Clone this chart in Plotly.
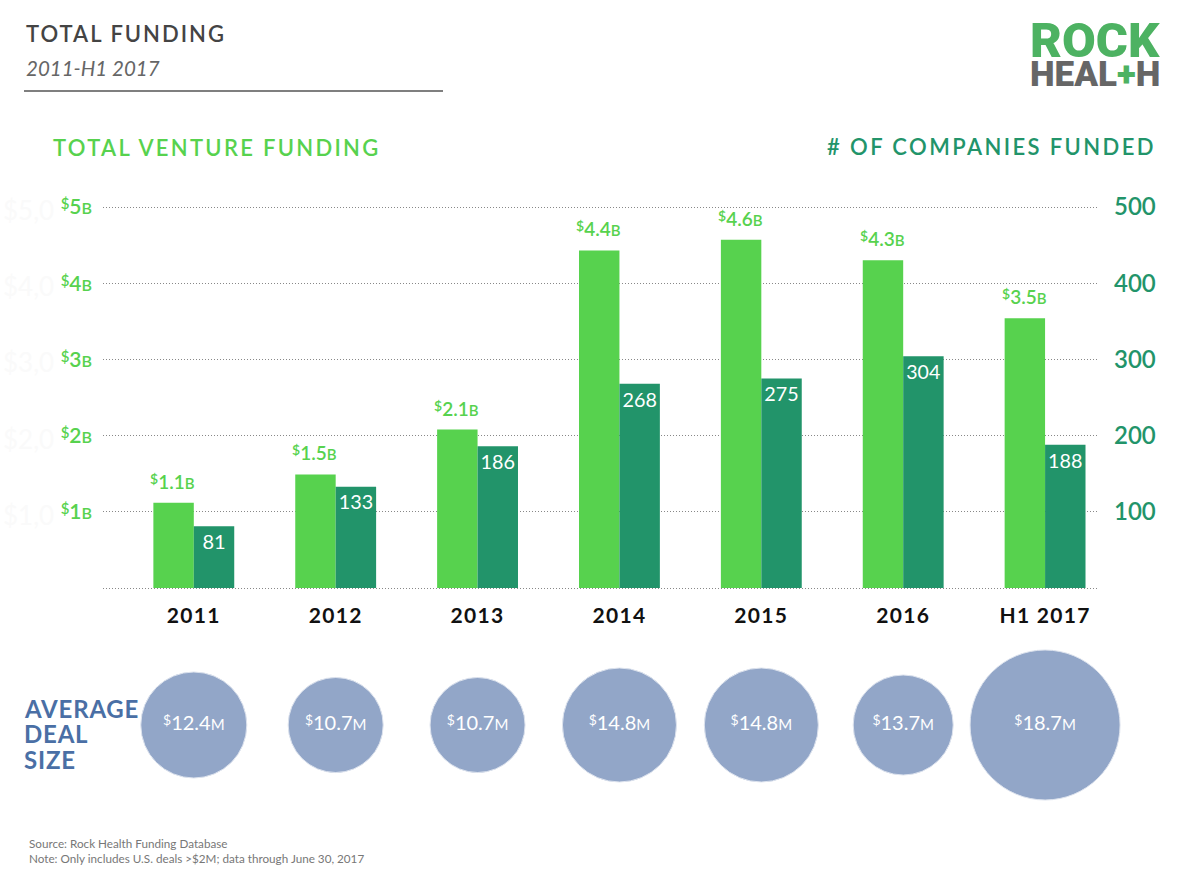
import plotly.graph_objects as go

# Raw data
years = ["2011", "2012", "2013", "2014", "2015", "2016", "H1 2017"]
funding_billions = [1.12, 1.49, 2.08, 4.43, 4.57, 4.30, 3.54]
funding_labels = ["1.1", "1.5", "2.1", "4.4", "4.6", "4.3", "3.5"]
companies = [81, 133, 186, 268, 275, 304, 188]
deal_size = [12.4, 10.7, 10.7, 14.8, 14.8, 13.7, 18.7]
deal_row = [0, 0, 0, 0, 0, 0, 0]
billion_ticks = [0, 1, 2, 3, 4, 5]
company_ticks = [100, 200, 300, 400, 500]

# Circle diameters as measured, they are not strictly proportional
bubble_px = [106, 95, 95, 114, 114, 100, 150]

GREEN = "#57D24E"
TEAL = "#22946A"
BLUE = "#4A6FA5"
BUBBLE = "#92A6C8"
FONT = "Lato"
W, H = 1200, 886


def spaced(text, px=1.5):
    return f'<span style="letter-spacing:{px}px">{text}</span>'


def money(value, unit, small, rise=5):
    dollar = f'<span style="font-size:{small - 1}px;baseline-shift:{rise}px">$</span>'
    return f'{dollar}{value}<span style="font-size:{small}px">{unit}</span>'


fig = go.Figure()

fig.add_trace(go.Bar(x=years, y=funding_billions, marker_color=GREEN, width=0.285, offset=-0.285,
                     xaxis="x", yaxis="y"))
fig.add_trace(go.Bar(x=years, y=companies, marker_color=TEAL, width=0.285, offset=0,
                     text=companies, textposition="inside", insidetextanchor="end",
                     textangle=0, textfont=dict(color="white", size=20, family=FONT),
                     xaxis="x", yaxis="y2"))
fig.add_trace(go.Scatter(x=years, y=deal_row, mode="markers+text",
                         marker=dict(size=bubble_px, color=BUBBLE, opacity=1,
                                     line=dict(color="#DDE3EE", width=1)),
                         text=[money(d, "M", 15) for d in deal_size],
                         textposition="middle center", textfont=dict(color="white", family=FONT, size=20),
                         cliponaxis=False, xaxis="x", yaxis="y3"))

annotations = []
for i, (value, label) in enumerate(zip(funding_billions, funding_labels)):
    annotations.append(dict(x=i, y=value, xref="x", yref="y", xshift=-21, yshift=8,
                            yanchor="bottom", showarrow=False, text=money(label, "B", 15),
                            font=dict(color=GREEN, family=FONT, size=19, weight=600)))


def note(text, x, y, size, color, anchor="left", family=FONT, weight="normal", style="normal"):
    annotations.append(dict(x=x / W, y=1 - y / H, xref="paper", yref="paper", xanchor=anchor,
                            yanchor="middle", showarrow=False, align="left", text=text,
                            borderpad=0, borderwidth=0,
                            font=dict(size=size, color=color, family=family, weight=weight, style=style)))


# Faint leftovers behind the left axis labels
for tick in billion_ticks[1:]:
    note(f"${tick},0", 3, 588 - tick * 76.2 + 3, 26, "#FAFAFA")

note(spaced("TOTAL FUNDING", 2), 26, 34, 22, "#444444", weight=600)
note("2011-H1 2017", 26, 68, 20.5, "#666666", style="italic")
note(spaced("TOTAL VENTURE FUNDING", 2.3), 53, 148, 22, GREEN, weight=600)
note(spaced("# OF COMPANIES FUNDED", 2.4), 1156, 146, 22, TEAL, anchor="right", weight=600)
for line, y in zip(["AVERAGE", "DEAL", "SIZE"], [708, 733, 759]):
    note(spaced(line, 0.8), 24, y, 24, BLUE, weight="bold")
note("Source: Rock Health Funding Database<br>Note: Only includes U.S. deals &gt;$2M; data through June 30, 2017",
     29, 850, 11.7, "#777777")
note("ROCK", 1030, 41, 49, "#4DB262", family="Roboto", weight=900)
note('HEAL<span style="color:#4DB262">+</span>H', 1030, 75, 35, "#666666", family="Roboto", weight=900)

# Pad the y ranges a little so the gridlines at 0 and 5B are not clipped away
pad = 0.05
fig.update_layout(
    template="none",
    width=W, height=H, margin=dict(l=0, r=0, t=0, b=0),
    paper_bgcolor="white", plot_bgcolor="white", showlegend=False,
    font=dict(family=FONT),
    annotations=annotations,
    shapes=[dict(type="line", xref="paper", yref="paper", x0=24 / W, x1=443 / W,
                 y0=1 - 91 / H, y1=1 - 91 / H, line=dict(color="#555555", width=1.5))],
    xaxis=dict(domain=[103 / W, 1097 / W], range=[-0.64, 6.366], type="category",
               categoryorder="array", categoryarray=years, anchor="y", showgrid=False,
               showline=False, ticks="", ticklen=0, tickangle=0, ticklabelstandoff=9,
               tickvals=years, ticktext=[spaced(y, 1.3) for y in years],
               tickfont=dict(size=21, color="#111111", family=FONT, weight="bold")),
    yaxis=dict(domain=[1 - (588 + pad * 76.2) / H, 1 - (207 - pad * 76.2) / H], range=[-pad, 5 + pad],
               tickvals=billion_ticks,
               ticktext=[""] + [money(b, "B", 16) for b in billion_ticks[1:]],
               tickfont=dict(color=GREEN, family=FONT, size=21, weight=600),
               ticklabelstandoff=10, showgrid=True, gridcolor="#888888",
               griddash="1px,2px", gridwidth=1, zeroline=False, showline=False, ticklen=0),
    yaxis2=dict(domain=[1 - (588 + pad * 76.2) / H, 1 - (207 - pad * 76.2) / H],
                range=[-pad * 100, 500 + pad * 100], overlaying="y", side="right",
                anchor="x", tickvals=company_ticks, showgrid=False, zeroline=False, showline=False,
                ticklen=0, ticklabelstandoff=16,
                tickfont=dict(size=24, color=TEAL, family=FONT, weight=600)),
    yaxis3=dict(domain=[1 - 800 / H, 1 - 650 / H], range=[-1, 1], visible=False, anchor="x"),
)

fig.write_html("out.html", config={"displayModeBar": False},
               post_script="document.body.style.margin='0';")
